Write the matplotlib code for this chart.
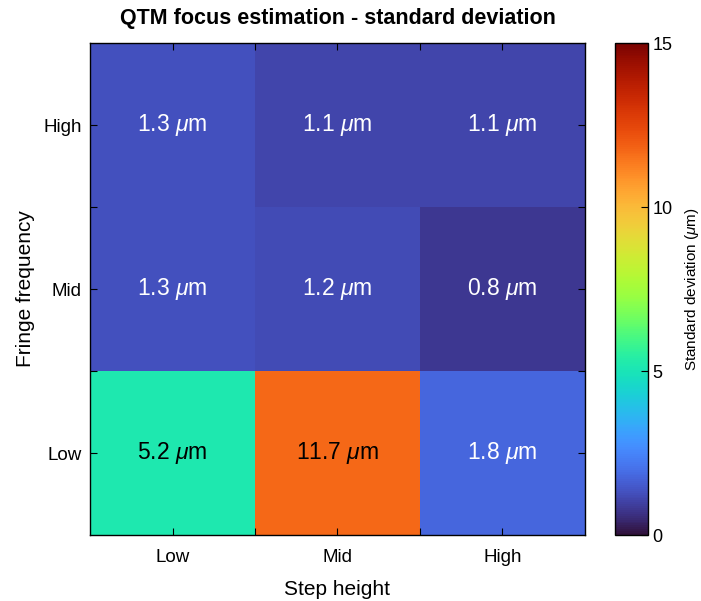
import matplotlib
matplotlib.use("Agg")
import matplotlib.pyplot as plt
import numpy as np

# Focus-estimation spread per (fringe frequency, step height) combination
step_heights = ["Low", "Mid", "High"]
fringe_freqs = ["High", "Mid", "Low"]  # top row first
std_high = [1.3, 1.1, 1.1]
std_mid = [1.3, 1.2, 0.8]
std_low = [5.2, 11.7, 1.8]

plt.rcParams["font.family"] = ["Liberation Sans", "DejaVu Sans"]
plt.rcParams["mathtext.fontset"] = "custom"
plt.rcParams["mathtext.rm"] = "Liberation Sans"
plt.rcParams["mathtext.it"] = "Liberation Sans:italic"

grid = np.array([std_high, std_mid, std_low])

fig = plt.figure(figsize=(7.01, 6.01), dpi=100)
ax = fig.add_axes([0.1284, 0.1098, 0.7061, 0.8186])
cax = fig.add_axes([0.8773, 0.1098, 0.0471, 0.8186])

im = ax.imshow(grid, cmap="turbo", vmin=0, vmax=15, aspect="auto",
               interpolation="nearest")

for i in range(grid.shape[0]):
    for j in range(grid.shape[1]):
        v = grid[i, j]
        ax.text(j, i, f"{v:.1f} $\\mu$m", ha="center", va="center",
                fontsize=16.5, color="black" if v > 4 else "white")

ax.set_xticks(range(len(step_heights)))
ax.set_xticklabels(step_heights)
ax.set_yticks(range(len(fringe_freqs)))
ax.set_yticklabels(fringe_freqs)
ax.set_xticks([0.5, 1.5], minor=True)
ax.set_yticks([0.5, 1.5], minor=True)
ax.tick_params(which="both", direction="in", top=True, right=True,
               length=5, width=0.8, labelsize=13.5)
ax.tick_params(axis="x", which="both", pad=10)
ax.tick_params(axis="y", which="both", pad=6)
for s in ax.spines.values():
    s.set_linewidth(1.0)

ax.set_xlabel("Step height", fontsize=15, labelpad=10)
ax.set_ylabel("Fringe frequency", fontsize=15, labelpad=6)
ax.set_title("QTM focus estimation - standard deviation", fontsize=15.5,
             fontweight="bold", pad=14)

cb = fig.colorbar(im, cax=cax, ticks=[0, 5, 10, 15])
cb.ax.tick_params(direction="in", length=5, labelsize=13, pad=3)
cb.outline.set_linewidth(1.0)
cb.set_label("Standard deviation ($\\mu$m)", fontsize=11, labelpad=8)

fig.savefig("out.png", dpi=100, facecolor="white")
